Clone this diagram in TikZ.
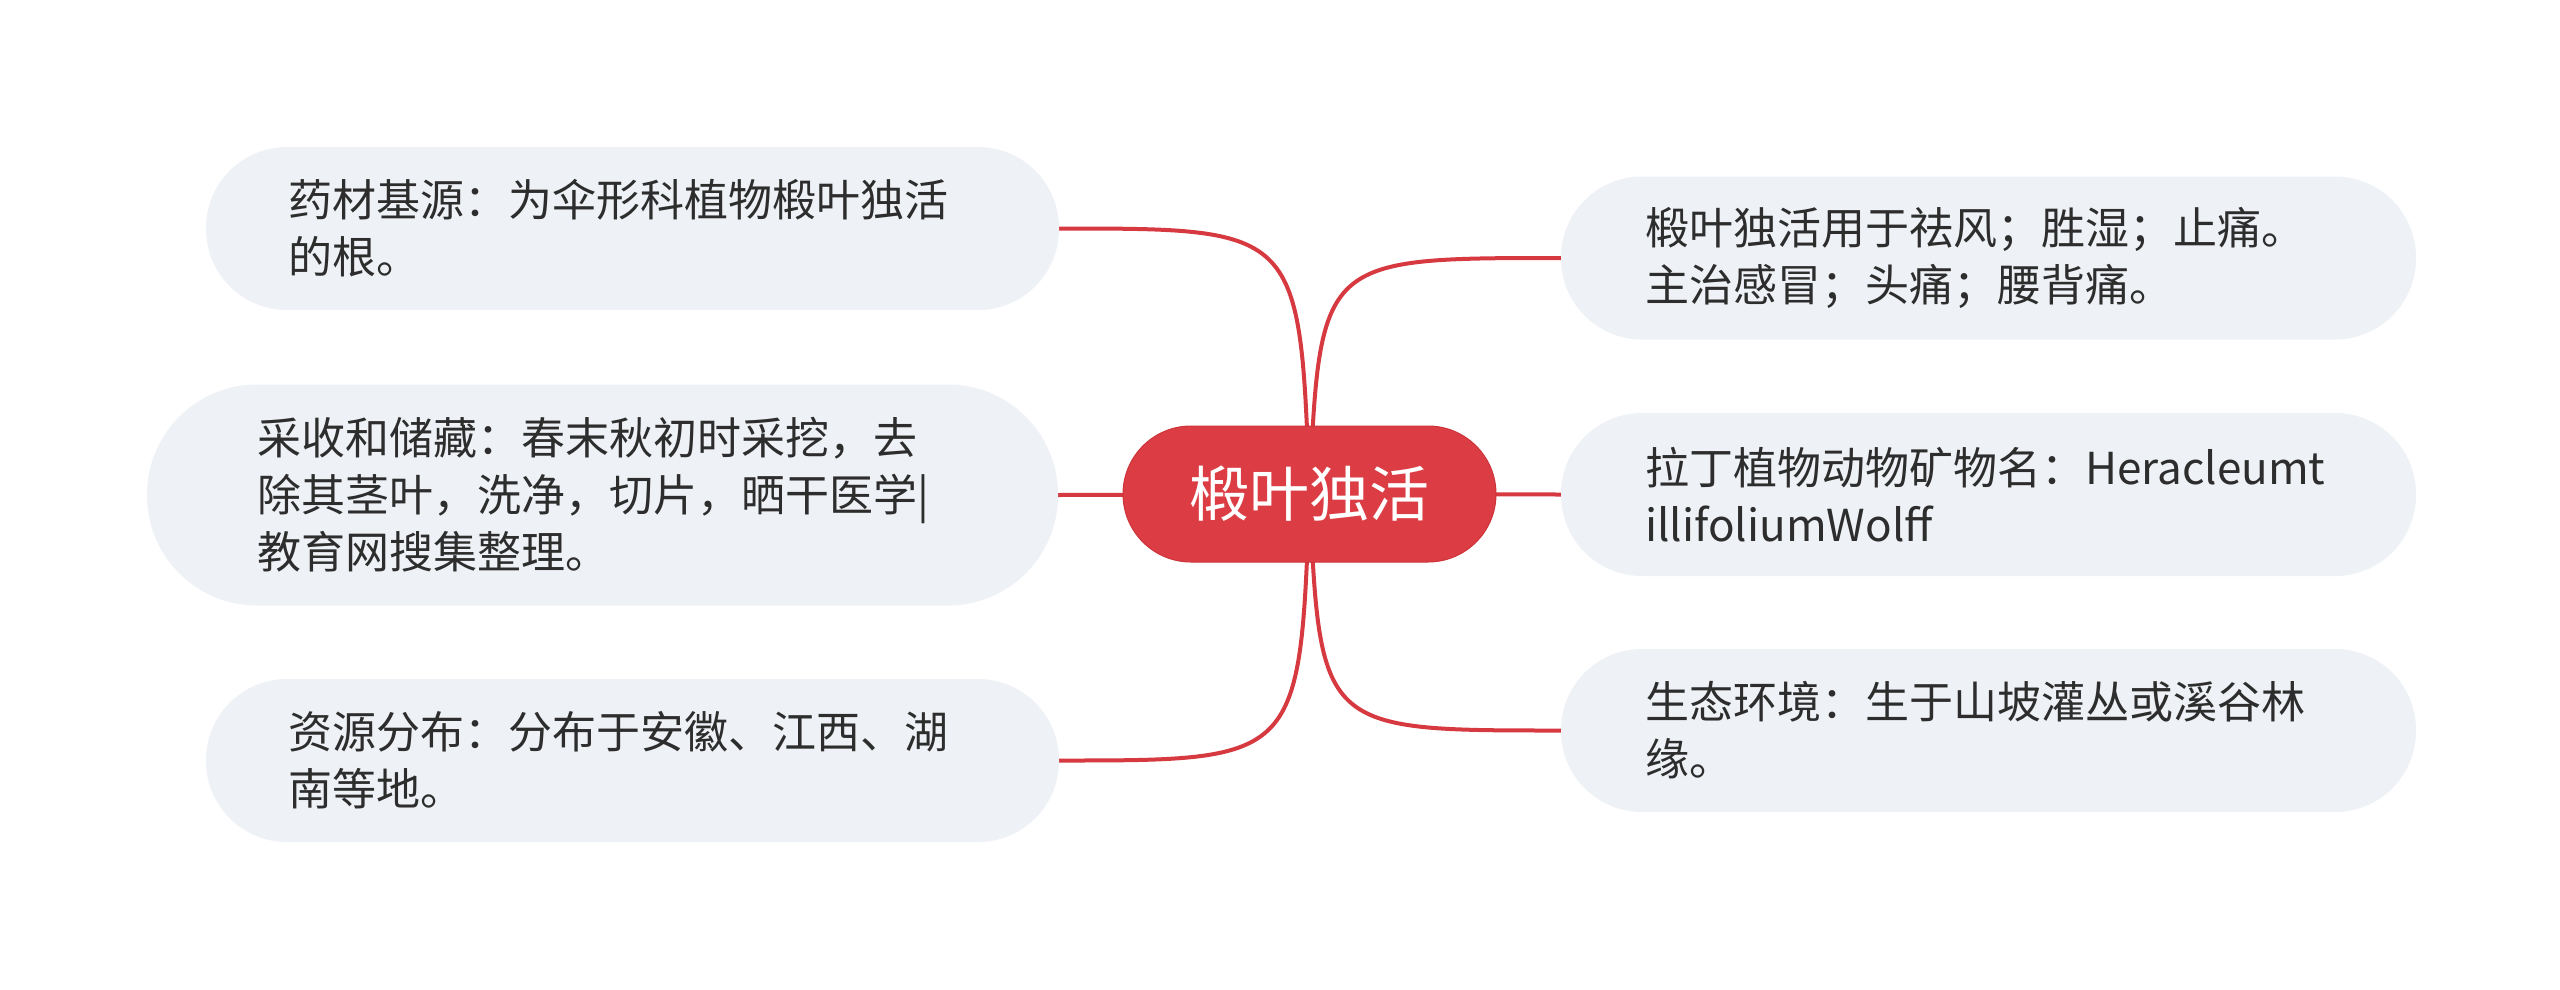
\documentclass[tikz,border=0pt]{standalone}
\usepackage{fontspec}
\setmainfont{Noto Sans CJK SC}
\usetikzlibrary{backgrounds}
\definecolor{boxfill}{RGB}{238,241,245}
\definecolor{txt}{RGB}{45,45,45}
\definecolor{cred}{RGB}{220,61,68}
\definecolor{credborder}{RGB}{204,52,58}
\definecolor{lred}{RGB}{214,58,64}
\begin{document}
\begin{tikzpicture}[x=1pt,y=-1pt,
  topic/.style={fill=boxfill, rounded corners=81pt, minimum height=163pt,
    minimum width=853pt, text width=689pt, text=txt,
    font=\fontsize{44}{57}\selectfont, align=left, inner sep=0pt},
  central/.style={fill=cred, draw=credborder, line width=1pt, rounded corners=68pt,
    minimum width=373pt, minimum height=136pt, text=white,
    font=\fontsize{60}{72}\selectfont, inner sep=0pt},
  conn/.style={draw=lred, line width=4pt}]
\useasboundingbox (0,0) rectangle (2560,989);

\node[central] (c) at (1309.5,494) {椴叶独活};

\node[topic] (l1) at (632.5,228.5) {药材基源：为伞形科植物椴叶独活\\的根。};
\node[topic, minimum width=911pt, minimum height=221pt, rounded corners=110pt, text width=691pt] (l2) at (602.5,495) {采收和储藏：春末秋初时采挖，去\\除其茎叶，洗净，切片，晒干医学|\\教育网搜集整理。};
\node[topic] (l3) at (632.5,760.5) {资源分布：分布于安徽、江西、湖\\南等地。};

\node[topic, minimum width=855pt, text width=687pt] (r1) at (1988.5,258) {椴叶独活用于祛风；胜湿；止痛。\\主治感冒；头痛；腰背痛。};
\node[topic, minimum width=855pt, text width=687pt] (r2) at (1988.5,494.5) {拉丁植物动物矿物名：Heracleumt\\illifoliumWolff};
\node[topic, minimum width=855pt, text width=687pt] (r3) at (1988.5,730.5) {生态环境：生于山坡灌丛或溪谷林\\缘。};

\begin{pgfonlayer}{background}
  \fill[white] (0,0) rectangle (2560,989);
  \draw[conn] (c.center) .. controls (1300,228.5) .. (l1.east);
  \draw[conn] (c.center) -- (l2.east);
  \draw[conn] (c.center) .. controls (1300,760.5) .. (l3.east);
  \draw[conn] (c.center) .. controls (1320,258) .. (r1.west);
  \draw[conn] (c.center) -- (r2.west);
  \draw[conn] (c.center) .. controls (1320,730.5) .. (r3.west);
\end{pgfonlayer}
\end{tikzpicture}
\end{document}
